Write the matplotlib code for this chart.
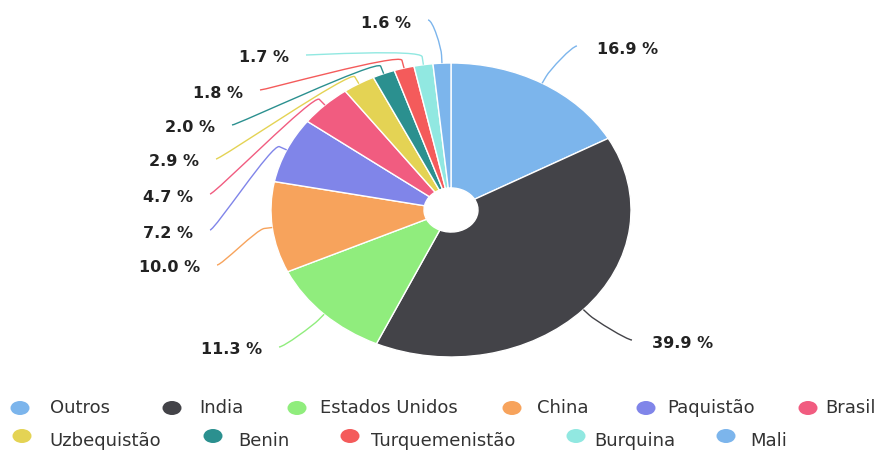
import numpy as np
import matplotlib

matplotlib.use("Agg")
import matplotlib.pyplot as plt
from matplotlib.path import Path
from matplotlib.patches import PathPatch, Ellipse

countries = ["Outros", "India", "Estados Unidos", "China", "Paquistão", "Brasil",
             "Uzbequistão", "Benin", "Turquemenistão", "Burquina", "Mali"]
shares = [16.9, 39.9, 11.3, 10.0, 7.2, 4.7, 2.9, 2.0, 1.8, 1.7, 1.6]
colors = ["#7cb5ec", "#434348", "#90ed7d", "#f7a35c", "#8085e9", "#f15c80",
          "#e4d354", "#2b908f", "#f45b5b", "#91e8e1", "#7cb5ec"]

# data label placement in pixels (y down); x is the text edge facing the pie
label_pos = [(597, 49), (652, 343), (262, 350), (200, 268), (193, 233), (193, 197),
             (199, 162), (215, 128), (243, 93), (289, 58), (411, 23)]

# legend layout in pixels: marker centre x, text left x, row
legend_marker_x = [20, 172, 297, 512, 646, 808, 22, 213, 350, 576, 726]
legend_text_x = [50, 199, 320, 537, 667, 825, 49, 238, 371, 594, 750]
legend_row = [0, 0, 0, 0, 0, 0, 1, 1, 1, 1, 1]
row_marker_y = [408, 436]
row_text_y = [408, 441]

W, H = 880, 450
CX, CY, RX, RY = 451, 210, 180, 147
BREAK = 8  # how far outside the rim the connectors bend

fig = plt.figure(figsize=(W / 100, H / 100), dpi=100)
fig.patch.set_facecolor("white")

ax = fig.add_axes([(CX - RX) / W, (H - CY - RY) / H, 2 * RX / W, 2 * RY / H])
wedges, _ = ax.pie(shares, colors=colors, startangle=90, counterclock=False,
                   wedgeprops=dict(width=0.85, edgecolor="white", linewidth=1.0))
ax.set_aspect("auto")
ax.set_xlim(-1, 1)
ax.set_ylim(-1, 1)

# overlay in pixel coordinates for labels, connectors and legend
ov = fig.add_axes([0, 0, 1, 1])
ov.set_xlim(0, W)
ov.set_ylim(H, 0)
ov.axis("off")
ov.patch.set_visible(False)

for w, value, color, (lx, ly) in zip(wedges, shares, colors, label_pos):
    a = np.radians((w.theta1 + w.theta2) / 2)
    edge = np.array([CX + RX * np.cos(a), CY - RY * np.sin(a)])
    brk = np.array([CX + (RX + BREAK) * np.cos(a), CY - (RY + BREAK) * np.sin(a)])
    left = lx < CX
    start = np.array([lx + 17 if left else lx - 20, ly - 3])
    c1 = start + np.array([5 if left else -5, 0])
    c2 = 2 * brk - edge
    path = Path([start, c1, c2, brk, edge],
                [Path.MOVETO, Path.CURVE4, Path.CURVE4, Path.CURVE4, Path.LINETO])
    ov.add_patch(PathPatch(path, facecolor="none", edgecolor=color, linewidth=1.0))
    ov.text(lx, ly, f"{value:.1f} %", ha="right" if left else "left", va="center",
            fontsize=11.5, fontweight="bold", color="#222222")

for name, color, mx, tx, row in zip(countries, colors, legend_marker_x,
                                    legend_text_x, legend_row):
    ov.add_patch(Ellipse((mx, row_marker_y[row]), 19, 14, facecolor=color,
                         edgecolor="none"))
    ov.text(tx, row_text_y[row], name, ha="left", va="center",
            fontsize=13, color="#333333")

fig.savefig("out.png", dpi=100, facecolor="white")
